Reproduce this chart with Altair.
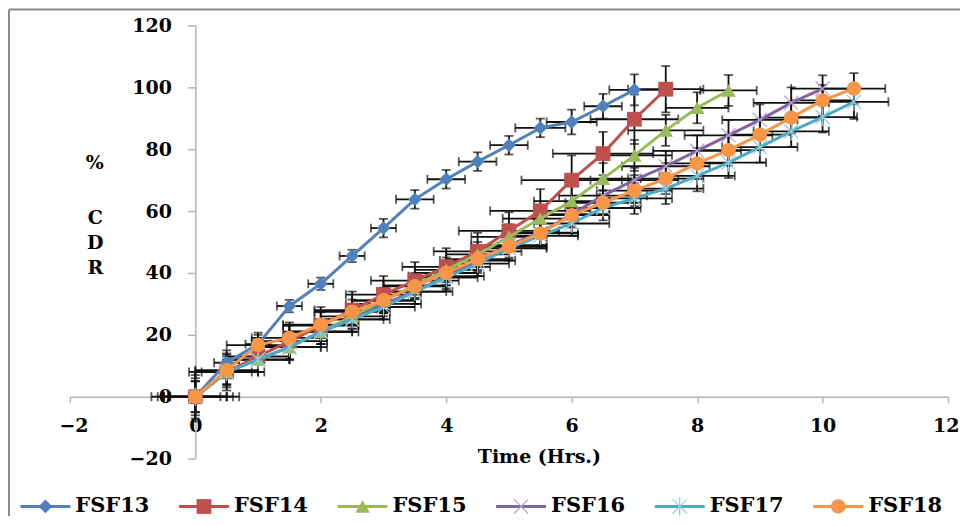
import altair as alt
import pandas as pd

# ---------------- data ----------------
SERIES = ["FSF13", "FSF14", "FSF15", "FSF16", "FSF17", "FSF18"]
TIME = [0, 0.5, 1, 1.5, 2, 2.5, 3, 3.5, 4, 4.5, 5, 5.5, 6, 6.5, 7, 7.5,
        8, 8.5, 9, 9.5, 10, 10.5]
X_TICKS = [-2, 0, 2, 4, 6, 8, 10, 12]
Y_TICKS = [-20, 0, 20, 40, 60, 80, 100, 120]

FSF13 = [0, 11, 17, 29.3, 36.5, 45.5, 54.5, 63.8, 70.3, 76, 81.3, 86.9, 88.8, 93.9, 99.2]
FSF13_YERR = [8, 4, 3, 2, 2, 2, 3, 3, 3, 3, 3, 3, 4, 4, 5]
FSF13_XERR = [0.7, 0.2, 0.2, 0.2, 0.2, 0.2, 0.2, 0.3, 0.3, 0.3, 0.3, 0.4, 0.4, 0.3, 0.4]

FSF14 = [0, 8, 13, 18, 23, 28, 33, 37.5, 42, 47, 53.6, 60.1, 70, 78.6, 89.7, 99.4]
FSF14_YERR = [7, 6, 5, 6, 6, 6, 6, 6, 6, 6, 6, 7, 8, 7, 8, 7.5]
FSF14_XERR = [0.5, 0.6, 0.5, 0.6, 0.6, 0.6, 0.6, 0.7, 0.7, 0.7, 0.8, 0.8, 0.8, 0.8, 0.7, 0.6]

FSF15 = [0, 8, 12, 16, 21, 26, 31, 36, 41, 46, 51.7, 57.6, 63.2, 70.5, 78, 86.1, 93.4, 99]
FSF15_YERR = [5, 5, 4, 4, 4, 4, 4, 4, 4, 4, 4, 4, 5, 5, 5, 5, 5, 5]
FSF15_XERR = [0.4, 0.4, 0.5, 0.5, 0.5, 0.5, 0.5, 0.5, 0.5, 0.5, 0.6, 0.6, 0.6, 0.6, 0.6, 0.6, 0.5, 0.45]

FSF16 = [0, 8, 12, 16, 21, 25, 30, 34, 39, 44, 49, 53, 59, 65, 70, 74.5, 79.5, 84.5, 89.5, 95, 99.6]
FSF16_YERR = [5, 4, 4, 4, 4, 4, 4, 4, 4, 4, 4, 4, 4, 4, 4, 5, 5, 5, 5, 5, 4.3]
FSF16_XERR = [0.5, 0.5, 0.5, 0.6, 0.6, 0.6, 0.6, 0.6, 0.6, 0.6, 0.6, 0.6, 0.6, 0.7, 0.7, 0.7, 0.7, 0.7, 0.6, 0.6, 0.5]

FSF17 = [0, 8, 12, 16, 21, 25, 29, 34, 38.5, 43, 48, 52, 56, 61, 64.1, 67.3, 71.4, 75.7, 80.7, 85.8, 90.4, 95.3]
FSF17_YERR = [5, 4, 4, 4, 4, 4, 4, 4, 4, 4, 4, 4, 4, 4, 5, 5, 5, 5, 5, 5, 5, 5.5]
FSF17_XERR = [0.5, 0.5, 0.5, 0.5, 0.5, 0.5, 0.5, 0.5, 0.5, 0.5, 0.6, 0.6, 0.6, 0.6, 0.6, 0.6, 0.6, 0.6, 0.6, 0.6, 0.55, 0.55]

FSF18 = [0, 8.6, 16.7, 19, 23.3, 27.4, 31.2, 35.7, 40, 44.5, 48.5, 52.8, 58.7, 62.7, 66.6, 70.5, 75.4, 79.7, 84.7, 90.2, 95.8, 99.6]
FSF18_YERR = [6, 5, 4, 4, 4, 4, 4, 4, 4, 4, 4, 4, 4, 4, 5, 5, 5, 5, 5, 5, 5, 5]
FSF18_XERR = [0.6, 0.5, 0.5, 0.6, 0.6, 0.6, 0.5, 0.5, 0.5, 0.5, 0.6, 0.6, 0.6, 0.6, 0.6, 0.6, 0.5, 0.5, 0.5, 0.5, 0.5, 0.5]

VALUES = [FSF13, FSF14, FSF15, FSF16, FSF17, FSF18]
YERRS = [FSF13_YERR, FSF14_YERR, FSF15_YERR, FSF16_YERR, FSF17_YERR, FSF18_YERR]
XERRS = [FSF13_XERR, FSF14_XERR, FSF15_XERR, FSF16_XERR, FSF17_XERR, FSF18_XERR]

# ---------------- styles ----------------
LINE_COLORS = ["#4F81BD", "#C0504D", "#9BBB59", "#8064A2", "#4BACC6", "#F79646"]
MARK_COLORS = ["#4F81BD", "#C0504D", "#9BBB59", "#B3A2C7", "#93CDDD", "#F79646"]
SHAPES = ["diamond", "square", "triangle-up",
          "M-1,-1L1,1M-1,1L1,-1",
          "M-1,-1L1,1M-1,1L1,-1M0,-1.3L0,1.3",
          "circle"]
FILLED = [True, True, True, False, False, True]
SIZES = [190, 220, 210, 200, 200, 210]

FONT = "DejaVu Serif"
W, H = 880, 434
X_AXIS_AT = H * 120 / 140      # pixel row of y = 0
Y_AXIS_AT = W * 2 / 14         # pixel column of x = 0

rows = []
for s, vals, ye, xe in zip(SERIES, VALUES, YERRS, XERRS):
    for i, v in enumerate(vals):
        t = TIME[i]
        rows.append({"series": s, "t": t, "v": v,
                     "ylo": v - ye[i], "yhi": v + ye[i],
                     "xlo": t - xe[i], "xhi": t + xe[i]})
df = pd.DataFrame(rows)

XS = alt.Scale(domain=[-2, 12], nice=False, zero=False)
YS = alt.Scale(domain=[-20, 120], nice=False, zero=False)

AX_X = alt.Axis(values=X_TICKS, offset=-(H - X_AXIS_AT), grid=False,
                domainColor="#b5b5b5", domainWidth=1.5,
                tickColor="#b5b5b5", tickWidth=1.5, tickSize=6,
                labelFont=FONT, labelFontSize=19, labelFontWeight="bold",
                labelColor="black", labelPadding=14, labelFlush=True,
                labelFlushOffset=11, labelOverlap=False, format="d",
                title="Time (Hrs.)", titleFont=FONT, titleFontSize=19,
                titleFontWeight="bold", titleColor="black",
                titleX=470, titleY=60, titleAlign="center",
                titleBaseline="middle")
AX_Y = alt.Axis(values=Y_TICKS, offset=-Y_AXIS_AT, grid=False,
                domainColor="#b5b5b5", domainWidth=1.5,
                tickColor="#b5b5b5", tickWidth=1.5, tickSize=8,
                labelFont=FONT, labelFontSize=19, labelFontWeight="bold",
                labelColor="black", labelPadding=16, labelFlush=False,
                labelOverlap=False, format="d",
                title=["C", "D", "R"], titleAngle=0,
                titleFont=FONT, titleFontSize=19, titleFontWeight="bold",
                titleColor="black", titleX=-100.7, titleY=183,
                titleAlign="center", titleBaseline="top",
                titleLineHeight=25.5)


def X(f):
    return alt.X(f, type="quantitative", scale=XS, axis=AX_X)


def Y(f):
    return alt.Y(f, type="quantitative", scale=YS, axis=AX_Y)


base = alt.Chart(df)

err_v = base.mark_errorbar(ticks=True, thickness=1.8, size=9, color="#111111").encode(
    x=X("t"), y=Y("ylo"), y2="yhi")
err_h = base.mark_errorbar(ticks=True, thickness=1.8, size=9, color="#111111").encode(
    x=X("xlo"), x2="xhi", y=Y("v"))

series_layers = []
for i, s in enumerate(SERIES):
    sub = base.transform_filter(alt.datum.series == s)
    series_layers.append(
        sub.mark_line(strokeWidth=3, color=LINE_COLORS[i]).encode(x=X("t"), y=Y("v")))
    if FILLED[i]:
        pm = sub.mark_point(shape=SHAPES[i], filled=True, color=MARK_COLORS[i],
                            size=SIZES[i], opacity=1)
    else:
        pm = sub.mark_point(shape=SHAPES[i], filled=False, color=MARK_COLORS[i],
                            size=SIZES[i], strokeWidth=1.2, opacity=1)
    series_layers.append(pm.encode(x=X("t"), y=Y("v")))

main = alt.layer(err_v, err_h, *series_layers)

# "%" part of the y title (separated from "C D R" by a blank line)
pct_df = pd.DataFrame({"label": ["%"]})
pct = alt.Chart(pct_df).mark_text(font=FONT, fontSize=19, fontWeight="bold",
                                  color="black", align="center",
                                  baseline="middle").encode(
    x=alt.value(25), y=alt.value(138), text="label:N")

# ---------------- legend (drawn with marks) ----------------
leg_df = pd.DataFrame({"series": SERIES})
LEG_Y = 482
LX = alt.X("series:N", scale=alt.Scale(type="point", domain=SERIES,
                                        range=[-24.5, 770], padding=0), axis=None)
leg_layers = []
legbase = alt.Chart(leg_df)
for i, s in enumerate(SERIES):
    sub = legbase.transform_filter(alt.datum.series == s)
    leg_layers.append(sub.mark_tick(orient="horizontal", size=50, thickness=3,
                                    color=LINE_COLORS[i], opacity=1).encode(
        x=LX, y=alt.value(LEG_Y)))
    if FILLED[i]:
        pm = sub.mark_point(shape=SHAPES[i], filled=True, color=MARK_COLORS[i],
                            size=SIZES[i], opacity=1)
    else:
        pm = sub.mark_point(shape=SHAPES[i], filled=False, color=MARK_COLORS[i],
                            size=SIZES[i], strokeWidth=1.2, opacity=1)
    leg_layers.append(pm.encode(x=LX, y=alt.value(LEG_Y)))
    leg_layers.append(sub.mark_text(align="left", baseline="middle", dx=30,
                                    font=FONT, fontSize=21, fontWeight="bold",
                                    color="black").encode(
        x=LX, y=alt.value(LEG_Y), text="series:N"))
legend = alt.layer(*leg_layers)

# ---------------- outer frame ----------------
frame_df = pd.DataFrame({"k": [0]})
top_rule = alt.Chart(frame_df).mark_rule(color="#8a8a8a", strokeWidth=2).encode(
    x=alt.value(-61), x2=alt.value(W + 12), y=alt.value(-16), y2=alt.value(-16))
left_rule = alt.Chart(frame_df).mark_rule(color="#8a8a8a", strokeWidth=2).encode(
    x=alt.value(-61), x2=alt.value(-61), y=alt.value(-16), y2=alt.value(H + 70))

chart = alt.layer(main, pct, legend, top_rule, left_rule).resolve_scale(
    x="independent"
).properties(
    width=W, height=H,
    autosize=alt.AutoSizeParams(type="none"),
    padding={"left": 62, "top": 17, "right": 12, "bottom": 57},
    background="white",
).configure_view(stroke=None)

chart.save("out.html", embed_options={"renderer": "svg", "actions": False})
